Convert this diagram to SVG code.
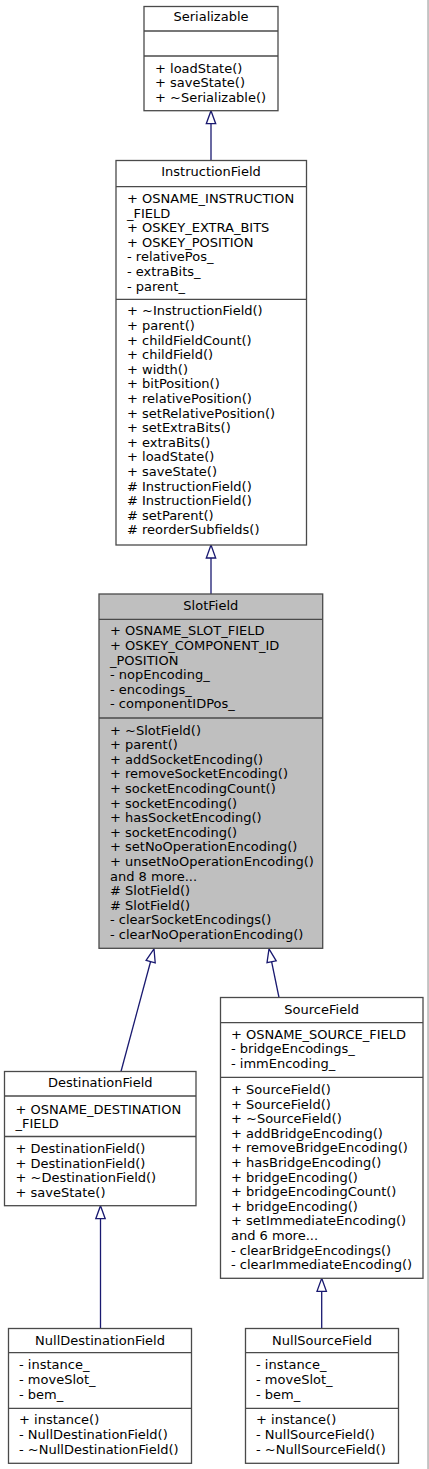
<svg xmlns="http://www.w3.org/2000/svg" width="429" height="1469" viewBox="0 0 429 1469">
<style>
  .box { fill: #ffffff; stroke: #4a4a4a; stroke-width: 1.3; }
  .hl { fill: #bfbfbf; }
  .sep { stroke: #4a4a4a; stroke-width: 1.3; }
  text { font-family: "DejaVu Sans", "Liberation Sans", sans-serif; font-size: 13px; font-weight: normal; fill: #000000; }
  .t { text-anchor: middle; }
  .edge { stroke: #191970; stroke-width: 1.3; fill: none; }
  .head { stroke: #191970; stroke-width: 1.3; fill: #ffffff; }
</style>
<rect x="0" y="0" width="429" height="1469" fill="#ffffff"/>
<rect x="427.4" y="0" width="1.3" height="1469" fill="#a8a8a8"/>

<g id="connectors">
  <line class="edge" x1="211" y1="160.5" x2="211" y2="123.7"/>
  <polygon class="head" points="211,110.7 215.7,123.7 206.3,123.7"/>
  <line class="edge" x1="211" y1="594" x2="211" y2="558"/>
  <polygon class="head" points="211,545 215.7,558 206.3,558"/>
  <line class="edge" x1="121" y1="1071.5" x2="150.6" y2="961.5"/>
  <polygon class="head" points="154,948.8 155.2,962.8 146.1,960.3"/>
  <line class="edge" x1="279" y1="997.5" x2="271.6" y2="961.7"/>
  <polygon class="head" points="269,948.8 276.2,960.8 267,962.7"/>
  <line class="edge" x1="100.5" y1="1328.5" x2="100.5" y2="1218.7"/>
  <polygon class="head" points="100.5,1205.7 105.2,1218.7 95.8,1218.7"/>
  <line class="edge" x1="321.7" y1="1328.5" x2="321.7" y2="1291.3"/>
  <polygon class="head" points="321.7,1278.3 326.4,1291.3 317,1291.3"/>
</g>

<g id="Serializable">
  <rect class="box" x="144" y="6.5" width="134" height="104.2"/>
  <line class="sep" x1="144" y1="31" x2="278" y2="31"/>
  <line class="sep" x1="144" y1="56" x2="278" y2="56"/>
  <text class="t" x="211" y="21.3">Serializable</text>
  <text x="155" y="72.8">+ loadState()</text>
  <text x="155" y="87.2">+ saveState()</text>
  <text x="155" y="101.6">+ ~Serializable()</text>
</g>

<g id="InstructionField">
  <rect class="box" x="116" y="160.5" width="190.5" height="384.5"/>
  <line class="sep" x1="116" y1="186.7" x2="306.5" y2="186.7"/>
  <line class="sep" x1="116" y1="299.3" x2="306.5" y2="299.3"/>
  <text class="t" x="211" y="176.3">InstructionField</text>
  <text x="127" y="202.9">+ OSNAME_INSTRUCTION</text>
  <text x="127" y="217.5">_FIELD</text>
  <text x="127" y="232.1">+ OSKEY_EXTRA_BITS</text>
  <text x="127" y="246.7">+ OSKEY_POSITION</text>
  <text x="127" y="261.3">- relativePos_</text>
  <text x="127" y="275.9">- extraBits_</text>
  <text x="127" y="290.5">- parent_</text>
  <text x="127" y="315.3">+ ~InstructionField()</text>
  <text x="127" y="329.9">+ parent()</text>
  <text x="127" y="344.5">+ childFieldCount()</text>
  <text x="127" y="359.1">+ childField()</text>
  <text x="127" y="373.7">+ width()</text>
  <text x="127" y="388.3">+ bitPosition()</text>
  <text x="127" y="402.9">+ relativePosition()</text>
  <text x="127" y="417.5">+ setRelativePosition()</text>
  <text x="127" y="432.1">+ setExtraBits()</text>
  <text x="127" y="446.7">+ extraBits()</text>
  <text x="127" y="461.3">+ loadState()</text>
  <text x="127" y="475.9">+ saveState()</text>
  <text x="127" y="490.5"># InstructionField()</text>
  <text x="127" y="505.1"># InstructionField()</text>
  <text x="127" y="519.7"># setParent()</text>
  <text x="127" y="534.3"># reorderSubfields()</text>
</g>

<g id="SlotField">
  <rect class="box hl" x="99" y="594" width="223.7" height="354.3"/>
  <line class="sep" x1="99" y1="619.3" x2="322.7" y2="619.3"/>
  <line class="sep" x1="99" y1="718" x2="322.7" y2="718"/>
  <text class="t" x="210.8" y="609.6">SlotField</text>
  <text x="110" y="635.3">+ OSNAME_SLOT_FIELD</text>
  <text x="110" y="649.9">+ OSKEY_COMPONENT_ID</text>
  <text x="110" y="664.5">_POSITION</text>
  <text x="110" y="679.1">- nopEncoding_</text>
  <text x="110" y="693.7">- encodings_</text>
  <text x="110" y="708.3">- componentIDPos_</text>
  <text x="110" y="734.6">+ ~SlotField()</text>
  <text x="110" y="749.2">+ parent()</text>
  <text x="110" y="763.8">+ addSocketEncoding()</text>
  <text x="110" y="778.4">+ removeSocketEncoding()</text>
  <text x="110" y="793">+ socketEncodingCount()</text>
  <text x="110" y="807.6">+ socketEncoding()</text>
  <text x="110" y="822.2">+ hasSocketEncoding()</text>
  <text x="110" y="836.8">+ socketEncoding()</text>
  <text x="110" y="851.4">+ setNoOperationEncoding()</text>
  <text x="110" y="866">+ unsetNoOperationEncoding()</text>
  <text x="110" y="880.6">and 8 more...</text>
  <text x="110" y="895.2"># SlotField()</text>
  <text x="110" y="909.8"># SlotField()</text>
  <text x="110" y="924.4">- clearSocketEncodings()</text>
  <text x="110" y="939">- clearNoOperationEncoding()</text>
</g>

<g id="DestinationField">
  <rect class="box" x="4.5" y="1071.5" width="191.5" height="134.2"/>
  <line class="sep" x1="4.5" y1="1096" x2="196" y2="1096"/>
  <line class="sep" x1="4.5" y1="1136.5" x2="196" y2="1136.5"/>
  <text class="t" x="100.2" y="1087">DestinationField</text>
  <text x="15.5" y="1113.6">+ OSNAME_DESTINATION</text>
  <text x="15.5" y="1128.2">_FIELD</text>
  <text x="15.5" y="1152.9">+ DestinationField()</text>
  <text x="15.5" y="1167.5">+ DestinationField()</text>
  <text x="15.5" y="1182.1">+ ~DestinationField()</text>
  <text x="15.5" y="1196.7">+ saveState()</text>
</g>

<g id="SourceField">
  <rect class="box" x="220.5" y="997.5" width="202.5" height="280.8"/>
  <line class="sep" x1="220.5" y1="1022.7" x2="423" y2="1022.7"/>
  <line class="sep" x1="220.5" y1="1077.3" x2="423" y2="1077.3"/>
  <text class="t" x="321.7" y="1014">SourceField</text>
  <text x="231" y="1038.6">+ OSNAME_SOURCE_FIELD</text>
  <text x="231" y="1053.2">- bridgeEncodings_</text>
  <text x="231" y="1067.8">- immEncoding_</text>
  <text x="231" y="1093.9">+ SourceField()</text>
  <text x="231" y="1108.5">+ SourceField()</text>
  <text x="231" y="1123.1">+ ~SourceField()</text>
  <text x="231" y="1137.7">+ addBridgeEncoding()</text>
  <text x="231" y="1152.3">+ removeBridgeEncoding()</text>
  <text x="231" y="1166.9">+ hasBridgeEncoding()</text>
  <text x="231" y="1181.5">+ bridgeEncoding()</text>
  <text x="231" y="1196.1">+ bridgeEncodingCount()</text>
  <text x="231" y="1210.7">+ bridgeEncoding()</text>
  <text x="231" y="1225.3">+ setImmediateEncoding()</text>
  <text x="231" y="1239.9">and 6 more...</text>
  <text x="231" y="1254.5">- clearBridgeEncodings()</text>
  <text x="231" y="1269.1">- clearImmediateEncoding()</text>
</g>

<g id="NullDestinationField">
  <rect class="box" x="8.5" y="1328.5" width="183" height="134.8"/>
  <line class="sep" x1="8.5" y1="1352.7" x2="191.5" y2="1352.7"/>
  <line class="sep" x1="8.5" y1="1408.3" x2="191.5" y2="1408.3"/>
  <text class="t" x="100" y="1345.3">NullDestinationField</text>
  <text x="19" y="1369">- instance_</text>
  <text x="19" y="1384">- moveSlot_</text>
  <text x="19" y="1399">- bem_</text>
  <text x="19" y="1424">+ instance()</text>
  <text x="19" y="1439">- NullDestinationField()</text>
  <text x="19" y="1454">- ~NullDestinationField()</text>
</g>

<g id="NullSourceField">
  <rect class="box" x="245.5" y="1328.5" width="153" height="134.8"/>
  <line class="sep" x1="245.5" y1="1352.7" x2="398.5" y2="1352.7"/>
  <line class="sep" x1="245.5" y1="1408.3" x2="398.5" y2="1408.3"/>
  <text class="t" x="322" y="1345.3">NullSourceField</text>
  <text x="256" y="1369">- instance_</text>
  <text x="256" y="1384">- moveSlot_</text>
  <text x="256" y="1399">- bem_</text>
  <text x="256" y="1424">+ instance()</text>
  <text x="256" y="1439">- NullSourceField()</text>
  <text x="256" y="1454">- ~NullSourceField()</text>
</g>
</svg>
